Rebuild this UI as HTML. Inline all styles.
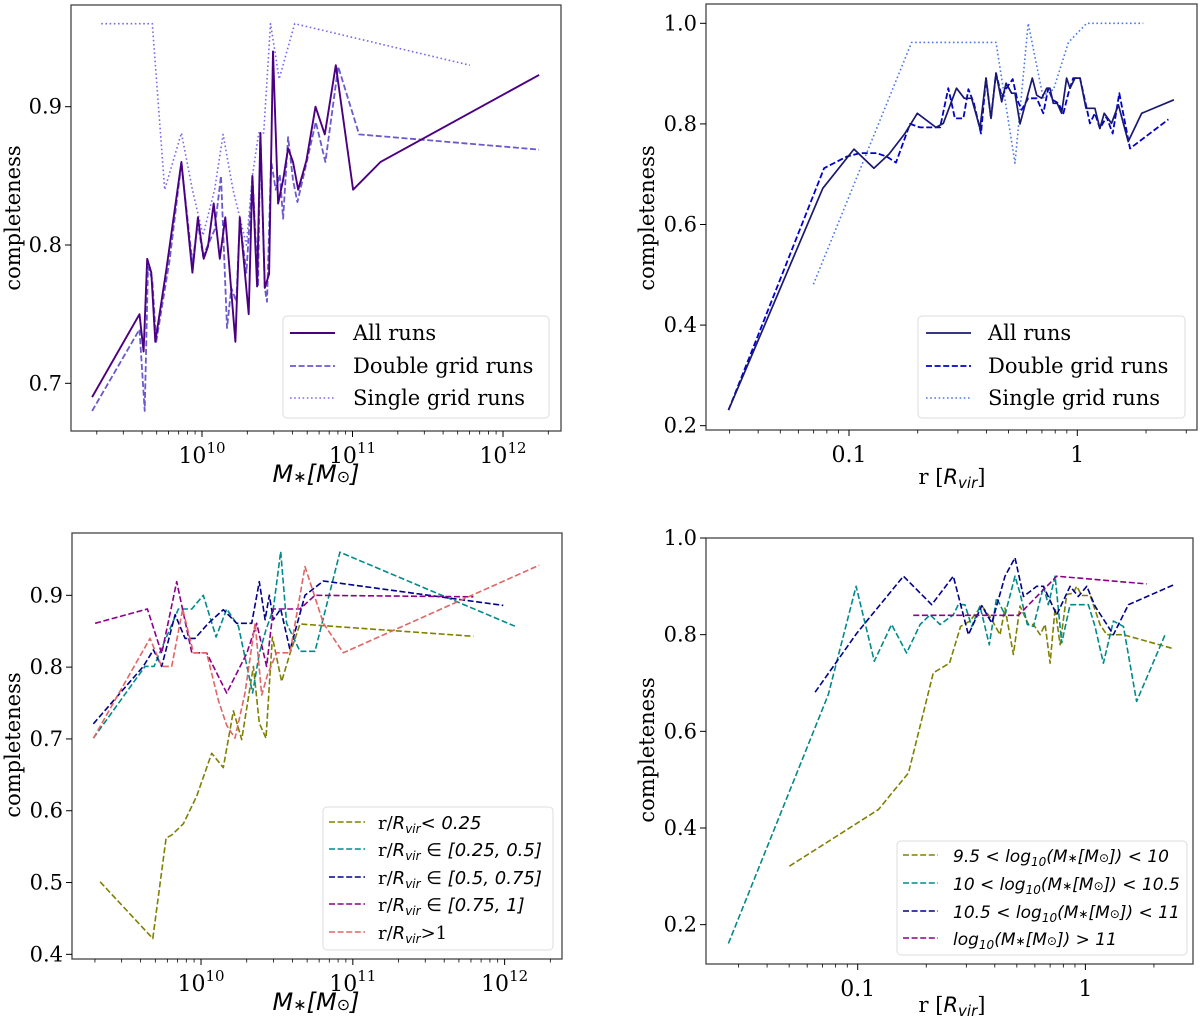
<!DOCTYPE html>
<html><head><meta charset="utf-8"><style>
html,body{margin:0;padding:0;background:#fff;}
svg{display:block;}
.tk{font-family:"DejaVu Serif","Liberation Serif",serif;font-size:21px;fill:#000;}
.lg{font-family:"DejaVu Serif","Liberation Serif",serif;font-size:21px;fill:#000;}
.ms{font-family:"DejaVu Sans","Liberation Sans",sans-serif;font-style:italic;fill:#000;}
</style></head><body>
<svg id="fig" width="1200" height="1022" xmlns="http://www.w3.org/2000/svg"></svg>
<script>
// ---------- Panel 1 data (log10 M*, completeness) ----------
const p1AllX=[9.270,9.585,9.612,9.636,9.663,9.690,9.763,9.863,9.936,9.973,10.011,10.040,10.078,10.118,10.155,10.222,10.251,10.310,10.335,10.366,10.388,10.417,10.446,10.472,10.506,10.539,10.572,10.605,10.639,10.694,10.754,10.816,10.889,11.004,11.186,12.24];
const p1AllY=[.690,.750,.723,.790,.780,.730,.782,.860,.780,.820,.790,.799,.830,.790,.820,.730,.820,.750,.850,.770,.881,.769,.779,.940,.830,.847,.870,.860,.840,.861,.900,.880,.930,.840,.860,.923];
const p1DblX=[9.270,9.585,9.619,9.641,9.670,9.696,9.785,9.863,9.936,9.973,10.007,10.044,10.084,10.126,10.166,10.195,10.228,10.251,10.295,10.335,10.373,10.388,10.417,10.432,10.459,10.490,10.517,10.539,10.572,10.605,10.634,10.694,10.756,10.820,10.905,11.044,12.24];
const p1DblY=[.680,.739,.680,.784,.775,.730,.789,.859,.787,.816,.792,.801,.811,.850,.740,.769,.759,.818,.780,.850,.770,.881,.769,.759,.861,.840,.851,.819,.878,.847,.831,.859,.889,.860,.929,.880,.869];
const p1SglX=[9.330,9.670,9.752,9.863,9.936,10.007,10.084,10.140,10.206,10.251,10.295,10.335,10.377,10.410,10.455,10.483,10.512,10.616,11.78];
const p1SglY=[.960,.960,.840,.881,.840,.807,.840,.880,.840,.820,.800,.850,.881,.881,.960,.941,.920,.960,.930];
// ---------- Panel 2 data (log10 r, completeness) ----------
const p2AllX=[-1.528,-1.115,-.978,-.891,-.825,-.755,-.701,-.619,-.587,-.529,-.495,-.463,-.426,-.400,-.378,-.356,-.331,-.312,-.288,-.273,-.251,-.197,-.178,-.156,-.134,-.120,-.105,-.088,-.069,-.047,-.032,-.010,.012,.038,.077,.099,.118,.150,.180,.223,.282,.423];
const p2AllY=[.231,.672,.750,.712,.740,.781,.821,.793,.801,.871,.851,.851,.791,.891,.811,.901,.844,.881,.861,.861,.800,.891,.857,.851,.871,.871,.841,.841,.821,.891,.871,.891,.891,.831,.831,.791,.821,.801,.838,.765,.821,.848];
const p2DblX=[-1.528,-1.109,-1.010,-.952,-.879,-.835,-.794,-.733,-.689,-.601,-.565,-.536,-.499,-.477,-.453,-.422,-.400,-.378,-.356,-.331,-.310,-.283,-.263,-.244,-.215,-.178,-.149,-.127,-.108,-.083,-.061,-.039,-.018,.012,.041,.055,.077,.099,.128,.155,.184,.231,.399];
const p2DblY=[.231,.712,.735,.742,.742,.735,.723,.800,.793,.793,.871,.811,.811,.869,.841,.781,.891,.811,.901,.854,.871,.889,.848,.828,.851,.851,.821,.871,.848,.841,.821,.861,.891,.891,.831,.801,.821,.791,.814,.781,.861,.751,.809];
const p2SglX=[-1.156,-.726,-.356,-.273,-.215,-.149,-.127,-.105,-.039,.041,.289];
const p2SglY=[.481,.962,.962,.722,1.0,.851,.867,.867,.962,1.0,1.0];
// ---------- Panel 3 data (log10 M*, completeness by radius bin) ----------
const p3aX=[9.335,9.682,9.770,9.807,9.884,9.971,10.070,10.147,10.213,10.268,10.345,10.384,10.428,10.470,10.531,10.586,10.652,11.794];
const p3aY=[.501,.422,.562,.566,.582,.620,.680,.660,.739,.699,.801,.722,.701,.842,.780,.819,.860,.843];
const p3bX=[9.291,9.631,9.690,9.851,9.939,10.015,10.099,10.169,10.246,10.340,10.384,10.428,10.476,10.525,10.564,10.652,10.751,10.915,12.068];
const p3bY=[.701,.801,.801,.881,.881,.900,.842,.881,.857,.764,.819,.852,.881,.961,.861,.822,.822,.960,.857];
const p3cX=[9.291,9.620,9.686,9.741,9.829,9.895,9.960,10.048,10.147,10.235,10.334,10.384,10.422,10.450,10.476,10.525,10.586,10.685,10.806,11.991];
const p3cY=[.721,.801,.824,.801,.873,.840,.840,.861,.880,.861,.861,.919,.866,.900,.866,.881,.824,.900,.920,.886];
const p3dX=[9.302,9.647,9.741,9.840,9.939,10.037,10.169,10.301,10.367,10.432,10.476,10.652,10.751,11.794];
const p3dY=[.861,.881,.819,.919,.820,.820,.764,.819,.861,.801,.881,.881,.900,.898];
const p3eX=[9.291,9.664,9.741,9.807,9.879,9.950,10.037,10.114,10.169,10.224,10.290,10.356,10.400,10.437,10.498,10.586,10.685,10.806,10.937,12.228];
const p3eY=[.701,.840,.801,.801,.881,.820,.820,.754,.719,.701,.764,.861,.761,.789,.820,.820,.940,.861,.820,.942];
// ---------- Panel 4 data (log10 r, completeness by mass bin) ----------
const p4aX=[-1.300,-.909,-.777,-.668,-.597,-.548,-.507,-.455,-.411,-.375,-.353,-.316,-.287,-.250,-.228,-.199,-.177,-.155,-.133,-.111,-.082,-.053,-.038,-.016,.021,.064,.094,.167,.379];
const p4aY=[.321,.438,.514,.721,.741,.817,.828,.860,.831,.800,.855,.759,.859,.821,.821,.800,.821,.741,.855,.779,.883,.886,.900,.881,.881,.821,.800,.800,.772];
const p4bX=[-1.568,-1.129,-1.007,-.927,-.851,-.785,-.726,-.682,-.638,-.580,-.558,-.529,-.499,-.463,-.422,-.390,-.353,-.309,-.287,-.255,-.228,-.184,-.163,-.133,-.104,-.067,-.016,.013,.042,.079,.123,.167,.225,.350];
const p4bY=[.161,.676,.900,.745,.821,.762,.821,.841,.821,.841,.862,.862,.817,.859,.779,.876,.841,.921,.886,.821,.817,.900,.862,.921,.783,.862,.862,.862,.817,.741,.828,.817,.662,.800];
const p4cX=[-1.187,-1.004,-.799,-.675,-.580,-.514,-.455,-.411,-.353,-.309,-.272,-.214,-.184,-.126,-.067,-.031,.006,.042,.123,.189,.387];
const p4cY=[.681,.803,.921,.862,.921,.800,.860,.824,.921,.959,.879,.900,.900,.841,.900,.879,.900,.859,.800,.862,.903];
const p4dX=[-.756,-.294,-.126,.269];
const p4dY=[.840,.840,.921,.905];
// ---------- tick labels ----------
const p1YTicks=[0.7,0.8,0.9];
const p2YTicks=[0.2,0.4,0.6,0.8,1.0];
const p3YTicks=[0.4,0.5,0.6,0.7,0.8,0.9];
const p4YTicks=[0.2,0.4,0.6,0.8,1.0];
const massDecades=[10,11,12];
const radiusDecades=[-1,0];
const radiusLabels=["0.1","1"];

const NS="http://www.w3.org/2000/svg";
const svg=document.getElementById('fig');
function el(tag,attrs,parent){const e=document.createElementNS(NS,tag);for(const k in attrs)e.setAttribute(k,attrs[k]);(parent||svg).appendChild(e);return e;}

function makePanel(box,xd,yd,name){
  const g=el('g',{});
  
  
  const sx=v=>box.l+(v-xd[0])/(xd[1]-xd[0])*(box.r-box.l);
  const sy=v=>box.b-(v-yd[0])/(yd[1]-yd[0])*(box.b-box.t);
  return {g,sx,sy,box};
}
function frame(P){
  const f=el('rect',{x:P.box.l,y:P.box.t,width:P.box.r-P.box.l,height:P.box.b-P.box.t,fill:'none',stroke:'#444','stroke-width':1.3},P.g);
  
  
}
function yTicks(P,ticks,fmt){
  ticks.forEach(v=>{
    const y=P.sy(v);
    el('line',{x1:P.box.l-6,x2:P.box.l,y1:y,y2:y,stroke:'#000','stroke-width':1},P.g);
    const t=el('text',{x:P.box.l-9,y:y+7,'text-anchor':'end',class:'tk'},P.g);
    
    
    t.textContent=fmt(v);
  });
}
function xLogTicks(P,xd,decades,labelFn){
  for(let d=Math.floor(xd[0]);d<=Math.ceil(xd[1]);d++){
    for(let m=1;m<10;m++){
      const lv=d+Math.log10(m);
      if(lv<xd[0]||lv>xd[1])continue;
      const x=P.sx(lv);
      el('line',{x1:x,x2:x,y1:P.box.b,y2:P.box.b+(m===1?6:3.5),stroke:'#000','stroke-width':m===1?1:0.8},P.g);
    }
  }
  decades.forEach((d,i)=>{
    const x=P.sx(d);
    const t=el('text',{x:x,y:P.box.b+32,'text-anchor':'middle',class:'tk'},P.g);
    
    
    labelFn(t,d,i);
  });
}
function powLabel(t,d){
  t.setAttribute('style','font-size:22px');
  const a=document.createElementNS(NS,'tspan');a.textContent='10';t.appendChild(a);
  const b=document.createElementNS(NS,'tspan');b.setAttribute('dy','-10');b.setAttribute('style','font-size:15px');b.textContent=String(d);t.appendChild(b);
}
function series(P,xs,ys,color,dash,w,name){
  const pts=xs.map((x,i)=>P.sx(x).toFixed(1)+','+P.sy(ys[i]).toFixed(1)).join(' ');
  const pl=el('polyline',{points:pts,fill:'none',stroke:color,'stroke-width':w,'stroke-dasharray':dash,'stroke-linejoin':'round'},P.g);
  
  
}
function legend(P,x,y,w,h,entries,rowYs,lx1,lx2,tx,fs){
  const r=el('rect',{x:x,y:y,width:w,height:h,rx:4,fill:'#fff','fill-opacity':0.85,stroke:'#ddd','stroke-width':1},P.g);
  
  
  entries.forEach((e,i)=>{
    const ly=rowYs[i];
    const ln=el('line',{x1:lx1,x2:lx2,y1:ly,y2:ly,stroke:e.color,'stroke-width':e.w,'stroke-dasharray':e.dash},P.g);
    
    
    const t=el('text',{x:tx,y:ly+7,class:'lg'},P.g);
    
    
    if(fs)t.setAttribute('style','font-size:'+fs+'px');
    if(e.parts){e.parts.forEach(p=>{const s=document.createElementNS(NS,'tspan');if(p.c)s.setAttribute('class',p.c);if(p.s)s.setAttribute('style',p.s);if(p.dy)s.setAttribute('dy',p.dy);s.textContent=p.t;t.appendChild(s);});}
    else t.textContent=e.label;
  });
}
function axLabel(P,x,y,rot,build,name){
  const t=el('text',{x:x,y:y,'text-anchor':'middle',class:'tk',transform:rot?`rotate(-90 ${x} ${y})`:''},P.g);
  
  
  build(t);
}
function massLabel(t){
  t.setAttribute('class','ms');t.setAttribute('style','font-size:24px');
  const parts=[['M',null],['∗','font-size:16px'],['[M',null],['⊙','font-size:16px'],[']',null]];
  parts.forEach(p=>{const s=document.createElementNS(NS,'tspan');if(p[1])s.setAttribute('style',p[1]);s.textContent=p[0];t.appendChild(s);});
}
function rLabel(t){
  const a=document.createElementNS(NS,'tspan');a.textContent='r [';t.appendChild(a);
  const b=document.createElementNS(NS,'tspan');b.setAttribute('class','ms');b.textContent='R';t.appendChild(b);
  const c=document.createElementNS(NS,'tspan');c.setAttribute('class','ms');c.setAttribute('style','font-size:15px');c.setAttribute('dy','4');c.textContent='vir';t.appendChild(c);
  const d=document.createElementNS(NS,'tspan');d.setAttribute('dy','-4');d.textContent=']';t.appendChild(d);
}
const fmt1=v=>v.toFixed(1);
const DASH='6,2.6', DOT='1.6,2.6';

// ===== Panel 1 =====
const x1=[9.1296,12.3854], y1=[0.66551,0.97354];
const P1=makePanel({l:71,r:561,t:5,b:431},x1,y1,'panel-mass-runs');
series(P1,p1SglX,p1SglY,'#7b68ee',DOT,1.6,'single-grid-line');
series(P1,p1DblX,p1DblY,'#6a5acd',DASH,1.8,'double-grid-line');
series(P1,p1AllX,p1AllY,'#4b0082','',1.9,'all-runs-line');
frame(P1);yTicks(P1,p1YTicks,fmt1);xLogTicks(P1,x1,massDecades,powLabel);
axLabel(P1,316,482,false,massLabel,'x-axis-title');
axLabel(P1,20,218,true,t=>{t.textContent='completeness';},'y-axis-title');
legend(P1,283,316,266,102,[{label:'All runs',color:'#4b0082',dash:'',w:1.9},{label:'Double grid runs',color:'#6a5acd',dash:DASH,w:1.8},{label:'Single grid runs',color:'#7b68ee',dash:DOT,w:1.6}],[333,366,398],290,335,353);

// ===== Panel 2 =====
const x2=[-1.6264,0.5243], y2=[0.1914,1.0384];
const P2=makePanel({l:706,r:1197,t:4,b:430},x2,y2,'panel-radius-runs');
series(P2,p2SglX,p2SglY,'#4a78e8',DOT,1.6,'single-grid-line');
series(P2,p2DblX,p2DblY,'#0000cd',DASH,1.8,'double-grid-line');
series(P2,p2AllX,p2AllY,'#191970','',1.7,'all-runs-line');
frame(P2);yTicks(P2,p2YTicks,fmt1);xLogTicks(P2,x2,radiusDecades,(t,d,i)=>{t.setAttribute('style','font-size:22px');t.textContent=radiusLabels[i];});
axLabel(P2,952,484,false,rLabel,'x-axis-title');
axLabel(P2,654,218,true,t=>{t.textContent='completeness';},'y-axis-title');
legend(P2,918,316,267,102,[{label:'All runs',color:'#191970',dash:'',w:1.7},{label:'Double grid runs',color:'#0000cd',dash:DASH,w:1.8},{label:'Single grid runs',color:'#4a78e8',dash:DOT,w:1.6}],[333,366,398],926,971,988);

// ===== Panel 3 =====
const x3=[9.150,12.378], y3=[0.3935,0.9868];
const P3=makePanel({l:72,r:562,t:533,b:959},x3,y3,'panel-mass-radius-bins');
series(P3,p3aX,p3aY,'#808000',DASH,1.6,'r-lt-0.25-line');
series(P3,p3bX,p3bY,'#008b8b',DASH,1.6,'r-0.25-0.5-line');
series(P3,p3cX,p3cY,'#00008b',DASH,1.6,'r-0.5-0.75-line');
series(P3,p3dX,p3dY,'#8b008b',DASH,1.6,'r-0.75-1-line');
series(P3,p3eX,p3eY,'#e06666',DASH,1.6,'r-gt-1-line');
frame(P3);yTicks(P3,p3YTicks,fmt1);xLogTicks(P3,x3,massDecades,powLabel);
axLabel(P3,316,1010,false,massLabel,'x-axis-title');
axLabel(P3,20,745,true,t=>{t.textContent='completeness';},'y-axis-title');
const rv=(after)=>[{t:'r/'},{t:'R',c:'ms'},{t:'vir',c:'ms',s:'font-size:12px',dy:'4'},{t:after,c:'ms',dy:'-4'}];
const L3=[{color:'#808000',parts:rv('< 0.25')},{color:'#008b8b',parts:rv(' ∈  [0.25, 0.5]')},{color:'#00008b',parts:rv(' ∈  [0.5, 0.75]')},{color:'#8b008b',parts:rv(' ∈  [0.75, 1]')},{color:'#e06666',parts:[{t:'r/'},{t:'R',c:'ms'},{t:'vir',c:'ms',s:'font-size:12px',dy:'4'},{t:'>1',dy:'-4'}]}];
L3.forEach(e=>{e.dash=DASH;e.w=1.6;});
legend(P3,323,807,230,143,L3,[822,849,877,904,932],329,365,378,18);

// ===== Panel 4 =====
const x4=[-1.6662,0.4726], y4=[0.1186,1.0];
const P4=makePanel({l:706,r:1193,t:538,b:964},x4,y4,'panel-radius-mass-bins');
series(P4,p4aX,p4aY,'#808000',DASH,1.6,'mass-9.5-10-line');
series(P4,p4bX,p4bY,'#008b8b',DASH,1.6,'mass-10-10.5-line');
series(P4,p4cX,p4cY,'#00008b',DASH,1.6,'mass-10.5-11-line');
series(P4,p4dX,p4dY,'#8b008b',DASH,1.6,'mass-gt-11-line');
frame(P4);yTicks(P4,p4YTicks,fmt1);xLogTicks(P4,x4,radiusDecades,(t,d,i)=>{t.setAttribute('style','font-size:22px');t.textContent=radiusLabels[i];});
axLabel(P4,952,1012,false,rLabel,'x-axis-title');
axLabel(P4,654,750,true,t=>{t.textContent='completeness';},'y-axis-title');
const ml=(pre,post)=>[{t:pre+'log',c:'ms'},{t:'10',c:'ms',s:'font-size:12px',dy:'4'},{t:'(M',c:'ms',dy:'-4'},{t:'∗',c:'ms',s:'font-size:12px'},{t:'[M',c:'ms'},{t:'⊙',c:'ms',s:'font-size:12px'},{t:'])'+post,c:'ms'}];
const L4=[{color:'#808000',parts:ml('9.5 < ',' < 10')},{color:'#008b8b',parts:ml('10 < ',' < 10.5')},{color:'#00008b',parts:ml('10.5 < ',' < 11')},{color:'#8b008b',parts:ml('',' > 11')}];
L4.forEach(e=>{e.dash=DASH;e.w=1.6;});
legend(P4,897,841,290,114,L4,[855,883,911,938],903,938,953,17);
</script>
</body></html>
